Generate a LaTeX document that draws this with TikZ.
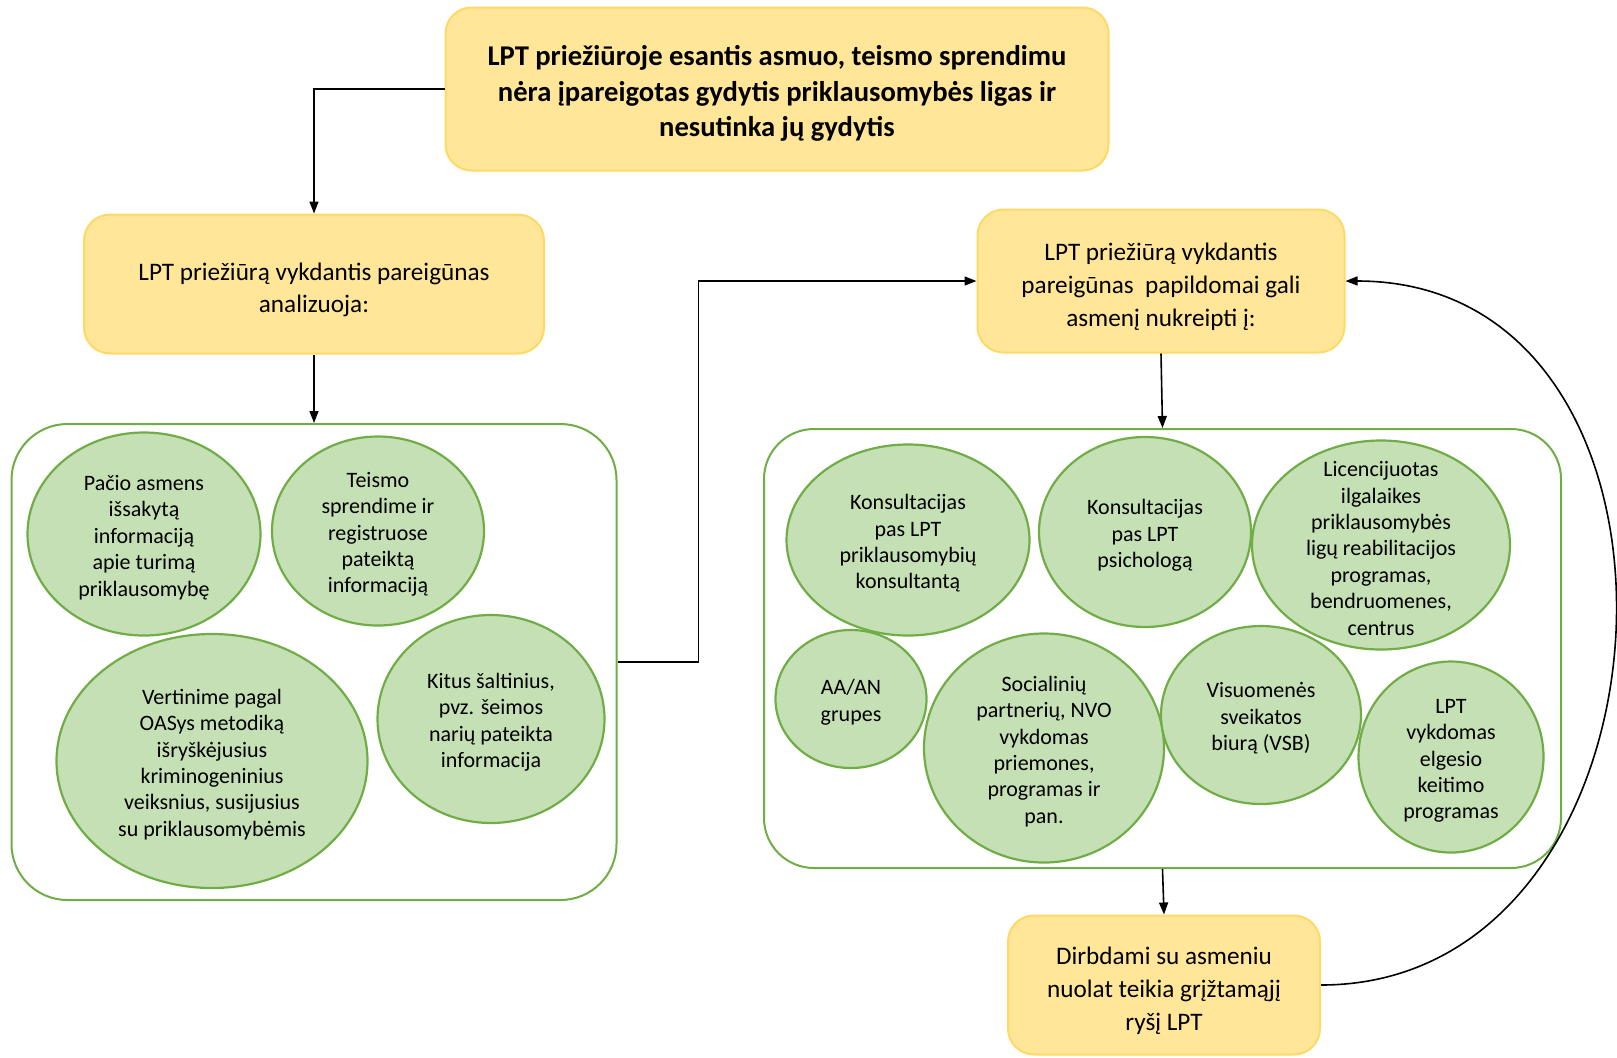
\documentclass[tikz,border=0pt]{standalone}
\usepackage{fontspec}
\setmainfont{Carlito}
\usepackage{tikz}
\usetikzlibrary{arrows.meta,shapes.geometric,positioning}

\definecolor{boxfill}{HTML}{FFE699}
\definecolor{boxline}{HTML}{FFD966}
\definecolor{blobfill}{HTML}{C5E0B4}
\definecolor{blobline}{HTML}{70AD47}

\newcommand{\boxlift}{\rule{0pt}{14.5pt}}
\newcommand{\bloblift}{\rule{0pt}{11pt}}

\begin{document}
\begin{tikzpicture}[x=0.5pt,y=-0.5pt,
  yellowbox/.style={draw=boxline, fill=boxfill, line width=1pt, rounded corners=13pt,
    align=center, inner sep=0pt, font=\fontsize{12.6}{16.3}\selectfont},
  groupbox/.style={draw=blobline, fill=white, line width=1pt, rounded corners=28pt, inner sep=0pt},
  greenblob/.style={ellipse, draw=blobline, fill=blobfill, line width=1.1pt, inner sep=0pt,
    align=center, font=\fontsize{11}{13.2}\selectfont},
  arr/.style={-{Triangle[length=6pt,width=4.5pt]}, line width=0.8pt, black}]
\useasboundingbox (0,0) rectangle (1617,1057);

\node[yellowbox, minimum width=331.5pt, minimum height=81.5pt,
  font=\fontsize{14.3}{17.6}\selectfont\bfseries] (top) at (777,89)
  {\boxlift LPT priežiūroje esantis asmuo, teismo sprendimu\\nėra įpareigotas gydytis priklausomybės ligas ir\\nesutinka jų gydytis};
\node[yellowbox, minimum width=230pt, minimum height=69.5pt] (ly) at (314,284)
  {\boxlift LPT priežiūrą vykdantis pareigūnas\\analizuoja:};
\node[yellowbox, minimum width=183.5pt, minimum height=71.5pt] (ry) at (1161,281)
  {\boxlift LPT priežiūrą vykdantis\\pareigūnas\ \ papildomai gali\\asmenį nukreipti į:};
\node[yellowbox, minimum width=156pt, minimum height=69.5pt] (fb) at (1164,985)
  {\boxlift Dirbdami su asmeniu\\nuolat teikia grįžtamąjį\\ryšį LPT};

\node[groupbox, minimum width=302.5pt, minimum height=238pt] (lgroup) at (314,662) {};
\node[groupbox, minimum width=398.5pt, minimum height=219.5pt, rounded corners=25pt] (rgroup) at (1162.5,648.5) {};

\node[greenblob, minimum width=116.5pt, minimum height=101.5pt] (self) at (144,534)
  {\bloblift Pačio asmens\\išsakytą\\informaciją\\apie turimą\\priklausomybę};
\node[greenblob, minimum width=106pt, minimum height=94.5pt] (court) at (378,531)
  {\bloblift Teismo\\sprendime ir\\registruose\\pateiktą\\informaciją};
\node[greenblob, minimum width=155.5pt, minimum height=127pt] (oasys) at (212,761)
  {\bloblift Vertinime pagal\\OASys metodiką\\išryškėjusius\\kriminogeninius\\veiksnius, susijusius\\su priklausomybėmis};
\node[greenblob, minimum width=113.5pt, minimum height=104pt] (other) at (491,719)
  {\bloblift Kitus šaltinius,\\pvz. šeimos\\narių pateikta\\informacija};

\node[greenblob, minimum width=121.5pt, minimum height=95.5pt] (cons) at (908,540)
  {\bloblift Konsultacijas\\pas LPT\\priklausomybių\\konsultantą};
\node[greenblob, minimum width=106pt, minimum height=95pt] (psych) at (1145,532)
  {\bloblift Konsultacijas\\pas LPT\\psichologą};
\node[greenblob, minimum width=129pt, minimum height=104.5pt, inner ysep=-11pt] (rehab) at (1381,545)
  {\bloblift Licencijuotas\\ilgalaikes\\priklausomybės\\ligų reabilitacijos\\programas,\\bendruomenes,\\centrus};
\node[greenblob, minimum width=75.5pt, minimum height=69pt] (aaan) at (851,699)
  {\bloblift AA/AN\\grupes};
\node[greenblob, minimum width=120pt, minimum height=114.5pt] (ngo) at (1044,748)
  {\bloblift Socialinių\\partnerių, NVO\\vykdomas\\priemones,\\programas ir\\pan.};
\node[greenblob, minimum width=100pt, minimum height=89pt] (vsb) at (1261,715)
  {\bloblift Visuomenės\\sveikatos\\biurą (VSB)};
\node[greenblob, minimum width=92.5pt, minimum height=95.5pt] (behav) at (1451,757)
  {\bloblift LPT\\vykdomas\\elgesio\\keitimo\\programas};

\draw[arr] (top.west) -| (ly.north);
\draw[arr] (ly.south) -- (lgroup.north);
\draw[arr] (lgroup.east) -- ++(81,0) |- (ry.west);
\draw[arr] (ry.south) -- (rgroup.north);
\draw[arr] (rgroup.south) -- (fb.north);
\draw[arr] (fb.east) .. controls +(370,0) and +(380,0) .. (ry.east);
\end{tikzpicture}
\end{document}
